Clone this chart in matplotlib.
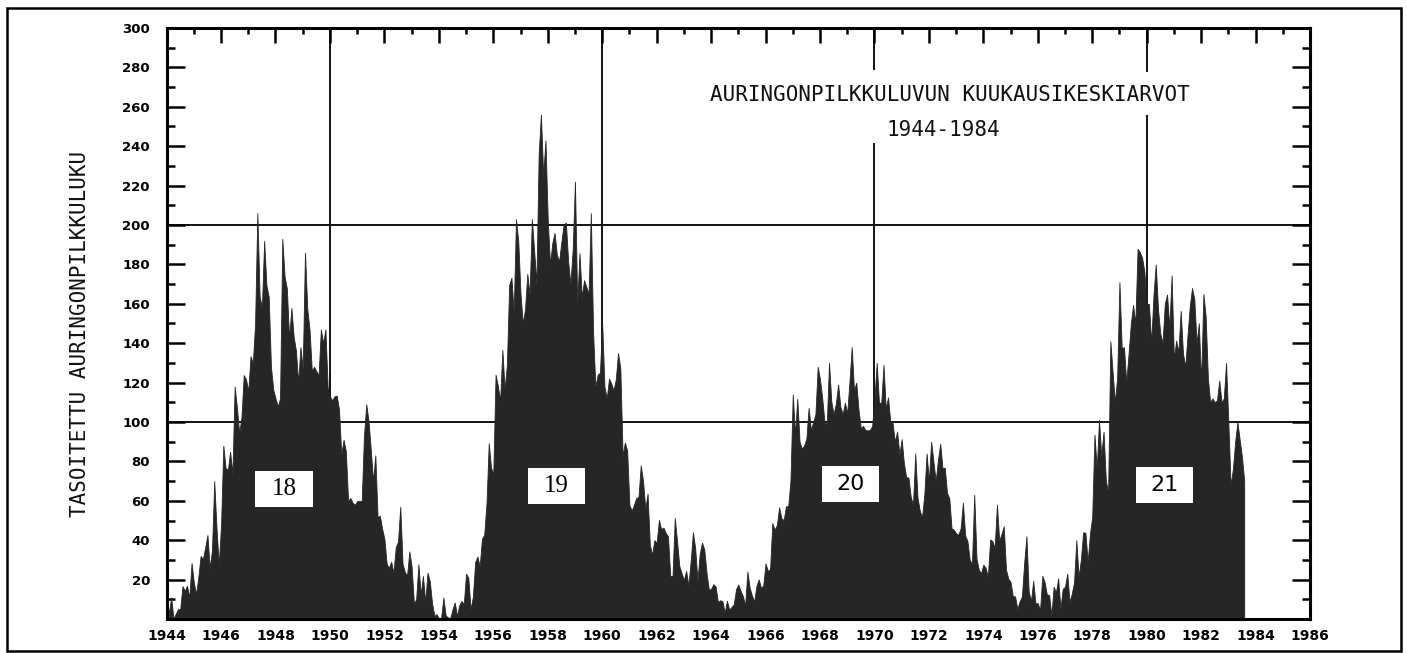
import numpy as np
import matplotlib
matplotlib.use("Agg")
import matplotlib.pyplot as plt
from matplotlib.patches import Rectangle
from matplotlib.ticker import MultipleLocator, FuncFormatter

# ---------------- data (monthly means) ----------------
start_year = 1944

ssn_1944_1953 = [
    9.0, 3.0, 11.0, 0.3, 2.5, 5.0, 5.0, 16.7, 14.3, 16.9, 10.8, 28.4,
    18.5, 12.7, 21.5, 32.0, 30.6, 36.2, 42.6, 25.9, 34.9, 70.0, 46.0, 27.4,
    47.6, 88.0, 76.6, 75.7, 84.9, 73.5, 118.0, 107.2, 94.4, 102.3, 123.8, 121.7,
    115.7, 133.4, 129.8, 149.8, 206.0, 163.9, 157.9, 192.0, 169.4, 163.6, 128.0, 116.5,
    112.0, 108.0, 112.0, 193.0, 174.0, 167.8, 142.2, 157.9, 143.3, 136.3, 120.0, 138.0,
    127.0, 186.0, 157.5, 147.0, 126.0, 128.0, 125.8, 123.8, 147.0, 140.0, 147.0, 117.6,
    113.0, 111.0, 113.0, 113.4, 106.2, 83.6, 91.0, 85.2, 60.0, 61.4, 59.0, 58.0,
    59.9, 59.9, 59.9, 92.9, 109.0, 100.6, 86.0, 70.0, 83.1, 51.6, 52.4, 45.8,
    40.7, 28.0, 26.0, 29.1, 23.4, 36.4, 39.3, 57.0, 28.2, 23.8, 22.1, 34.3,
    26.5, 8.0, 10.0, 27.8, 12.5, 21.8, 8.6, 23.5, 19.3, 8.2, 1.6, 2.5,
]

ssn_1954_1963 = [
    0.2, 0.5, 10.9, 1.8, 0.8, 0.2, 4.8, 8.4, 1.5, 7.0, 9.2, 7.6,
    23.1, 20.8, 4.9, 11.3, 28.9, 31.7, 26.7, 40.7, 42.7, 58.5, 89.2, 76.9,
    73.6, 124.0, 118.4, 110.7, 136.6, 116.6, 129.1, 169.6, 173.2, 155.3, 203.0, 192.1,
    165.0, 150.0, 157.4, 175.2, 164.6, 203.0, 187.2, 170.0, 235.8, 256.0, 225.0, 243.0,
    202.5, 180.0, 190.7, 196.0, 185.0, 181.5, 191.4, 200.2, 201.2, 181.5, 170.0, 187.6,
    222.0, 160.0, 185.7, 163.3, 172.0, 168.7, 165.0, 206.0, 145.2, 118.0, 124.0, 125.0,
    150.0, 118.0, 112.0, 122.0, 119.6, 116.0, 121.7, 135.0, 127.2, 82.8, 89.6, 85.6,
    57.9, 55.0, 58.0, 61.4, 62.0, 78.0, 70.2, 55.9, 63.6, 37.7, 32.6, 40.0,
    38.7, 50.3, 45.6, 46.4, 43.7, 42.0, 21.8, 21.8, 51.3, 39.5, 26.9, 23.2,
    19.8, 24.4, 17.1, 29.3, 44.0, 35.9, 19.6, 33.2, 38.8, 35.3, 23.4, 14.9,
]

ssn_1964_1973 = [
    15.3, 17.7, 16.5, 8.6, 9.5, 9.1, 3.1, 9.3, 4.7, 6.1, 7.4, 15.1,
    17.5, 14.2, 11.7, 6.8, 24.1, 15.9, 11.9, 8.9, 16.8, 20.1, 15.8, 17.0,
    28.2, 24.4, 25.3, 48.7, 45.3, 47.7, 56.7, 51.2, 50.2, 57.2, 57.2, 70.4,
    114.0, 93.6, 111.8, 90.0, 86.5, 88.0, 91.5, 107.2, 96.0, 100.0, 104.0, 128.0,
    121.8, 111.9, 100.0, 99.0, 130.0, 110.3, 104.0, 109.3, 119.0, 107.7, 104.0, 109.8,
    104.4, 120.5, 138.0, 116.0, 120.0, 106.0, 96.8, 98.0, 96.0, 95.7, 96.0, 97.9,
    111.5, 130.0, 110.0, 109.5, 129.0, 106.8, 112.5, 100.0, 99.5, 90.0, 95.2, 83.5,
    91.3, 79.0, 72.0, 71.8, 62.0, 58.0, 84.0, 61.4, 55.0, 51.7, 63.2, 84.0,
    70.0, 90.0, 80.1, 70.0, 80.5, 89.0, 76.5, 76.8, 64.0, 61.3, 46.0, 45.3,
    43.4, 42.9, 46.0, 59.0, 42.4, 39.5, 30.0, 28.0, 63.0, 30.7, 25.0, 23.3,
]

ssn_1974_1983 = [
    27.6, 26.0, 21.3, 40.3, 39.5, 36.0, 58.0, 40.0, 43.0, 47.1, 25.0, 20.5,
    18.9, 11.5, 11.5, 5.1, 9.0, 11.4, 28.2, 42.0, 13.9, 9.1, 19.4, 7.8,
    8.1, 4.3, 21.9, 18.8, 12.4, 12.2, 1.9, 16.4, 13.5, 20.6, 5.2, 15.3,
    16.4, 23.1, 8.7, 12.9, 18.6, 40.0, 21.4, 30.1, 44.0, 43.8, 29.1, 43.2,
    51.9, 93.6, 76.5, 101.0, 82.7, 95.1, 70.4, 64.0, 141.0, 125.1, 110.0, 122.7,
    171.0, 137.5, 138.0, 120.0, 134.4, 149.5, 159.4, 150.0, 188.0, 186.2, 183.3, 176.3,
    159.6, 160.0, 140.0, 164.1, 180.0, 157.3, 145.0, 140.0, 160.0, 164.7, 147.9, 174.4,
    132.0, 141.3, 135.5, 156.4, 135.0, 128.0, 143.8, 158.7, 168.0, 162.4, 140.0, 150.1,
    120.0, 165.0, 153.8, 122.0, 110.0, 112.0, 110.0, 111.0, 121.0, 110.0, 112.0, 130.0,
    100.0, 68.0, 76.0, 90.0, 100.0, 91.1, 82.2, 70.0,
]

cycle_numbers = ["18", "19", "20", "21"]
cycle_x = [1948.31, 1958.32, 1969.12, 1980.66]
cycle_y = [66.0, 67.5, 68.5, 68.0]
cycle_fonts = ["Liberation Serif", "Liberation Serif", "DejaVu Sans", "DejaVu Sans"]
cycle_sizes = [18, 18, 16, 16]

title_line1 = "AURINGONPILKKULUVUN KUUKAUSIKESKIARVOT"
title_line2 = "1944-1984"
y_label = "TASOITETTU AURINGONPILKKULUKU"

# ---------------- figure ----------------
values = np.concatenate([ssn_1944_1953, ssn_1954_1963, ssn_1964_1973, ssn_1974_1983])
t = start_year + np.arange(len(values)) / 12.0

W, H = 1407, 653
fig = plt.figure(figsize=(W / 100, H / 100), dpi=100)
fig.patch.set_facecolor("white")

ax_l, ax_r, ax_t, ax_b = 166.6, 1310.0, 28.0, 619.0
ax = fig.add_axes([ax_l / W, 1 - ax_b / H, (ax_r - ax_l) / W, (ax_b - ax_t) / H])
ax.set_xlim(1944, 1986)
ax.set_ylim(0, 300)

# grid lines (behind the fill)
for yv in (100, 200):
    ax.axhline(yv, color="black", lw=1.3, zorder=1)
ax.vlines([1950, 1960], 0, 300, color="black", lw=1.3, zorder=1)
ax.vlines([1970, 1970], [0, 278.7], [241.6, 300], color="black", lw=1.3, zorder=1)
ax.vlines([1980, 1980], [0, 277.7], [255.8, 300], color="black", lw=1.3, zorder=1)

# data
ax.fill_between(t, 0, values, color="#262626", lw=0.6, edgecolor="#262626", zorder=2)

# cycle boxes
bw, bh = 2.1, 18.3
for lab, xc, yc, fam, fs in zip(cycle_numbers, cycle_x, cycle_y, cycle_fonts, cycle_sizes):
    ax.add_patch(Rectangle((xc - bw / 2, yc - bh / 2), bw, bh,
                           facecolor="white", edgecolor="none", zorder=3))
    ax.text(xc, yc, lab, ha="center", va="center", fontsize=fs,
            family=fam, color="black", zorder=4)

# titles
ax.text(1972.78, 266, title_line1, ha="center", va="center",
        family="DejaVu Sans Mono", fontsize=15, color="#111111", zorder=4)
ax.text(1972.52, 248, title_line2, ha="center", va="center",
        family="DejaVu Sans Mono", fontsize=15, color="#111111", zorder=4)

# y label
fig.text(80 / W, 1 - 334 / H, y_label, rotation=90, ha="center", va="center",
         family="DejaVu Sans Mono", fontsize=15, color="#111111")

# spines
for sp in ax.spines.values():
    sp.set_linewidth(2.2)
    sp.set_color("black")
    sp.set_zorder(5)

# x ticks (bottom: white, inside)
ax.xaxis.set_major_locator(MultipleLocator(2))
ax.xaxis.set_minor_locator(MultipleLocator(1))
ax.xaxis.set_major_formatter(FuncFormatter(lambda v, p: "%d" % round(v)))
ax.tick_params(axis="x", which="major", direction="in", length=6, width=1.5,
               color="white", bottom=True, top=False, pad=7, labelsize=10)
ax.tick_params(axis="x", which="minor", direction="in", length=2.5, width=1.5,
               color="white", bottom=True, top=False)
for lbl in ax.get_xticklabels():
    lbl.set_fontweight("bold")

# y ticks (both sides, inside)
ax.yaxis.set_major_locator(MultipleLocator(20))
ax.yaxis.set_minor_locator(MultipleLocator(10))
ax.yaxis.set_major_formatter(FuncFormatter(lambda v, p: "" if v <= 0 else "%d" % round(v)))
ax.tick_params(axis="y", which="major", direction="in", length=13, width=1.8,
               color="black", left=True, right=True, pad=12, labelsize=9.5)
ax.tick_params(axis="y", which="minor", direction="in", length=6, width=1.8,
               color="black", left=True, right=True)
for lbl in ax.get_yticklabels():
    lbl.set_fontweight("bold")

# top ticks (black)
axt = ax.twiny()
axt.set_xlim(1944, 1986)
axt.xaxis.set_major_locator(MultipleLocator(2))
axt.xaxis.set_minor_locator(MultipleLocator(1))
axt.tick_params(axis="x", which="major", direction="in", length=11, width=1.8,
                color="black", top=True, bottom=False, labeltop=False, labelbottom=False)
axt.tick_params(axis="x", which="minor", direction="in", length=4.5, width=1.8,
                color="black", top=True, bottom=False)
for sp in axt.spines.values():
    sp.set_visible(False)

# outer frame
fig.patches.append(Rectangle((7 / W, 1 - 651 / H), (1401 - 7) / W, (651 - 8) / H,
                             transform=fig.transFigure, fill=False,
                             lw=1.8, edgecolor="black"))

fig.savefig("out.png", dpi=100, facecolor="white")
